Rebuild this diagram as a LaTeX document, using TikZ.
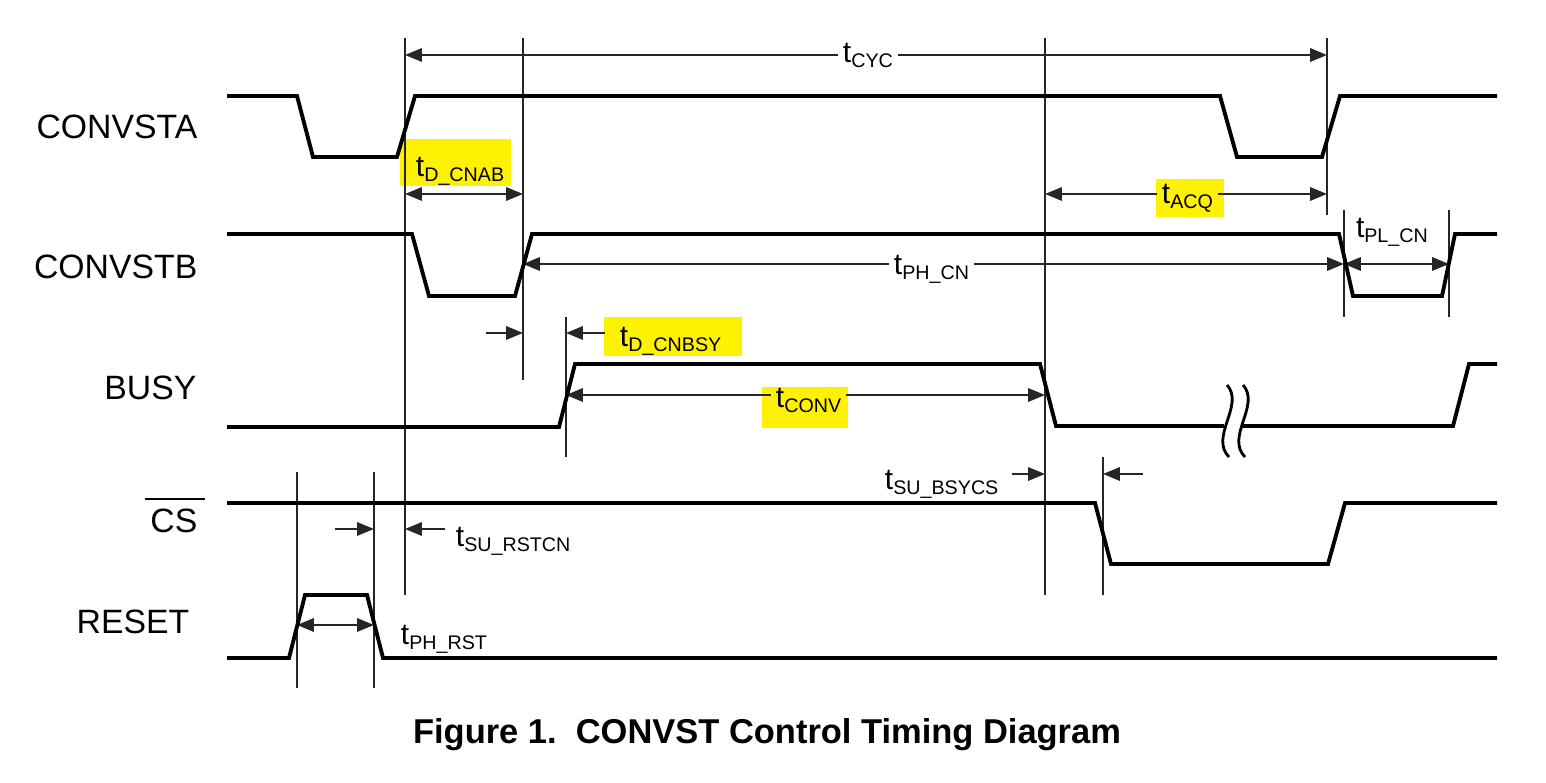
\documentclass[tikz,border=0pt]{standalone}
\usepackage{fontspec}
\setmainfont{Liberation Sans}
\usetikzlibrary{arrows.meta,calc}
\newcommand{\tlab}[1]{t\raisebox{-1.2pt}{\fontsize{5.6}{6}\selectfont #1}}
\begin{document}
\begin{tikzpicture}[x=0.01cm,y=-0.01cm,
  sig/.style={line width=1.1pt, line join=miter},
  guide/.style={line width=0.6pt, draw=black!85},
  dim/.style={line width=0.6pt, draw=black!85, {Triangle[length=4.8pt,width=3.8pt]}-{Triangle[length=4.8pt,width=3.8pt]}},
  rdim/.style={line width=0.6pt, draw=black!85, -{Triangle[length=4.8pt,width=3.8pt]}},
  tl/.style={anchor=base west, inner sep=0pt, inner xsep=1.5pt, font=\fontsize{8.5}{9}\selectfont},
  signame/.style={anchor=east, inner sep=0pt, font=\fontsize{9.6}{11}\selectfont}]
\useasboundingbox (0,0) rectangle (1546,783);
% highlights
\fill[yellow] (400,139) rectangle (511,186);
\fill[yellow] (1156,179) rectangle (1224,217);
\fill[yellow] (604,317) rectangle (742,356);
\fill[yellow] (762,387) rectangle (848,428);
% guide lines
\draw[guide] (405,38) -- (405,595);
\draw[guide] (523,38) -- (523,380);
\draw[guide] (1045,38) -- (1045,595);
\draw[guide] (1327,38) -- (1327,215);
\draw[guide] (1344,210) -- (1344,317);
\draw[guide] (1449,210) -- (1449,317);
\draw[guide] (566,317) -- (566,457);
\draw[guide] (1103,457) -- (1103,595);
\draw[guide] (297,472) -- (297,688);
\draw[guide] (374,472) -- (374,688);
% dimension arrows
\draw[dim] (405,55) -- (1327,55);
\draw[dim] (405,194) -- (523,194);
\draw[dim] (1045,194) -- (1327,194);
\draw[dim] (523,264) -- (1344,264);
\draw[dim] (1344,264) -- (1449,264);
\draw[rdim] (486,333) -- (523,333);
\draw[rdim] (605,333) -- (566,333);
\draw[dim] (566,395) -- (1045,395);
\draw[rdim] (1012,474) -- (1045,474);
\draw[rdim] (1143,474) -- (1103,474);
\draw[rdim] (335,529) -- (374,529);
\draw[rdim] (445,529) -- (405,529);
\draw[dim] (297,625) -- (374,625);
% signals
\draw[sig] (227,96) -- (297,96) -- (313,157) -- (397,157) -- (415,96) -- (1220,96) -- (1237,157) -- (1322,157) -- (1340,96) -- (1497,96);
\draw[sig] (227,234) -- (412,234) -- (429,296) -- (515,296) -- (532,234) -- (1339,234) -- (1353,296) -- (1442,296) -- (1455,234) -- (1497,234);
\draw[sig] (227,427) -- (559,427) -- (575,364) -- (1040,364) -- (1056,426) -- (1224,426);
\draw[sig] (1241,426) -- (1453,426) -- (1469,364) -- (1497,364);
\draw[sig] (227,503) -- (1095,503) -- (1111,564) -- (1328,564) -- (1345,503) -- (1497,503);
\draw[sig] (227,658) -- (289,658) -- (305,595) -- (367,595) -- (383,658) -- (1497,658);
% break mark
\draw[line width=0.8pt] (1227,385) .. controls (1245,405) and (1209,437) .. (1229,457);
\draw[line width=0.8pt] (1243,385) .. controls (1261,405) and (1225,437) .. (1245,457);
% timing labels
\node[tl, fill=white] (tcyc) at (837,63) {\tlab{CYC}};
\node[tl] (tdcnab) at (410,177) {\tlab{D\_CNAB}};
\node[tl, fill=yellow] (tacq) at (1156,204) {\tlab{ACQ}};
\node[tl, fill=white] (tphcn) at (888,275) {\tlab{PH\_CN}};
\node[tl] (tplcn) at (1350,238) {\tlab{PL\_CN}};
\node[tl] (tdcnbsy) at (614,347) {\tlab{D\_CNBSY}};
\node[tl, fill=yellow] (tconv) at (770,408) {\tlab{CONV}};
\node[tl] (tsubsycs) at (879,490) {\tlab{SU\_BSYCS}};
\node[tl] (tsurstcn) at (450,547) {\tlab{SU\_RSTCN}};
\node[tl] (tphrst) at (395,645) {\tlab{PH\_RST}};
% signal names
\node[signame] (convsta) at (198,127) {CONVSTA};
\node[signame] (convstb) at (198,267) {CONVSTB};
\node[signame] (busy) at (197,388) {BUSY};
\node[signame] (cs) at (198,521) {CS};
\draw[line width=0.55pt] ($(cs.north west)+(-5,-9)$) -- ($(cs.north east)+(7,-9)$);
\node[signame] (reset) at (190,622) {RESET};
% caption
\node[font=\bfseries\fontsize{9.8}{12}\selectfont] (title) at (767,735) {Figure 1.\ \ CONVST Control Timing Diagram};
\end{tikzpicture}
\end{document}
